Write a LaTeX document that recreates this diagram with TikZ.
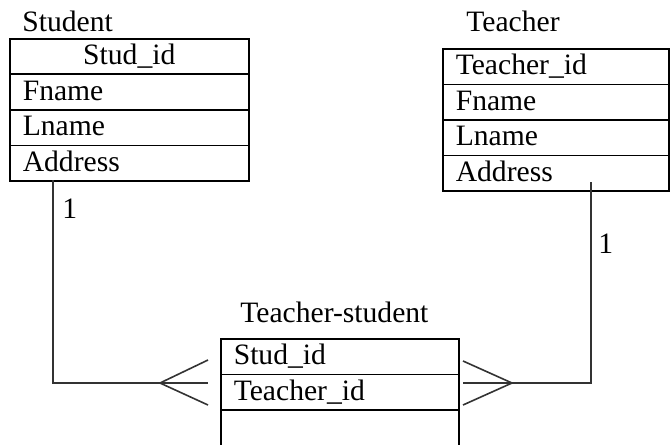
\documentclass[tikz,border=0pt]{standalone}
\usepackage{fontspec}
\setmainfont{Liberation Serif}
\begin{document}
\begin{tikzpicture}[x=0.5pt,y=0.5pt,yscale=-1,xscale=1,
	row/.style={draw,line width=0.8pt,anchor=north west,minimum height=17.75pt,
		inner xsep=6.5pt,inner ysep=0pt,text height=10.5pt,text depth=2.5pt,
		align=left,font=\fontsize{14.8}{16}\selectfont},
	rowS/.style={row,text width=106.5pt},
	rowT/.style={row,text width=100pt},
	rowR/.style={row,text width=106pt},
	title/.style={anchor=base west,inner sep=0pt,font=\fontsize{14.8}{16}\selectfont},
	link/.style={line width=0.8pt,draw=black!80}]
	\useasboundingbox (0,0) rectangle (672,444);
	
	% Student
	\node [title] (stutitle) at (22,32) {Student};
	\node [rowS,align=center] (stu1) at (9,38) {Stud\_id};
	\node [rowS] (stu2) at (9,73.5) {Fname};
	\node [rowS] (stu3) at (9,109) {Lname};
	\node [rowS] (stu4) at (9,144.5) {Address};
	
	% Teacher
	\node [title] (tchtitle) at (466,32) {Teacher};
	\node [rowT] (tch1) at (442,48) {Teacher\_id};
	\node [rowT] (tch2) at (442,83.5) {Fname};
	\node [rowT] (tch3) at (442,119) {Lname};
	\node [rowT] (tch4) at (442,154.5) {Address};
	
	% Teacher-student
	\node [title] (tstitle) at (240,322) {Teacher-student};
	\node [rowR] (ts1) at (220,338) {Stud\_id};
	\node [rowR] (ts2) at (220,373.5) {Teacher\_id};
	\node [rowR] (ts3) at (220,409) {};
	
	% end points
	\coordinate (sdrop) at (53,180);
	\coordinate (scorner) at (53,383);
	\coordinate (sfoot) at (160,383);
	\coordinate (stop) at (208,360);
	\coordinate (smid) at (208,383);
	\coordinate (sbot) at (208,405);
	\coordinate (tdrop) at (591,182);
	\coordinate (tcorner) at (591,383);
	\coordinate (tfoot) at (512,383);
	\coordinate (ttop) at (463,361);
	\coordinate (tmid) at (463,383);
	\coordinate (tbot) at (463,405);
	
	% Student - Teacher-student
	\draw [link] (sdrop) -- (scorner) -- (smid);
	\draw [link] (stop) -- (sfoot) -- (sbot);
	\node [title] (sone) at (62,218) {1};
	
	% Teacher - Teacher-student
	\draw [link] (tdrop) -- (tcorner) -- (tmid);
	\draw [link] (ttop) -- (tfoot) -- (tbot);
	\node [title] (tone) at (598,253) {1};
	
\end{tikzpicture}
\end{document}
